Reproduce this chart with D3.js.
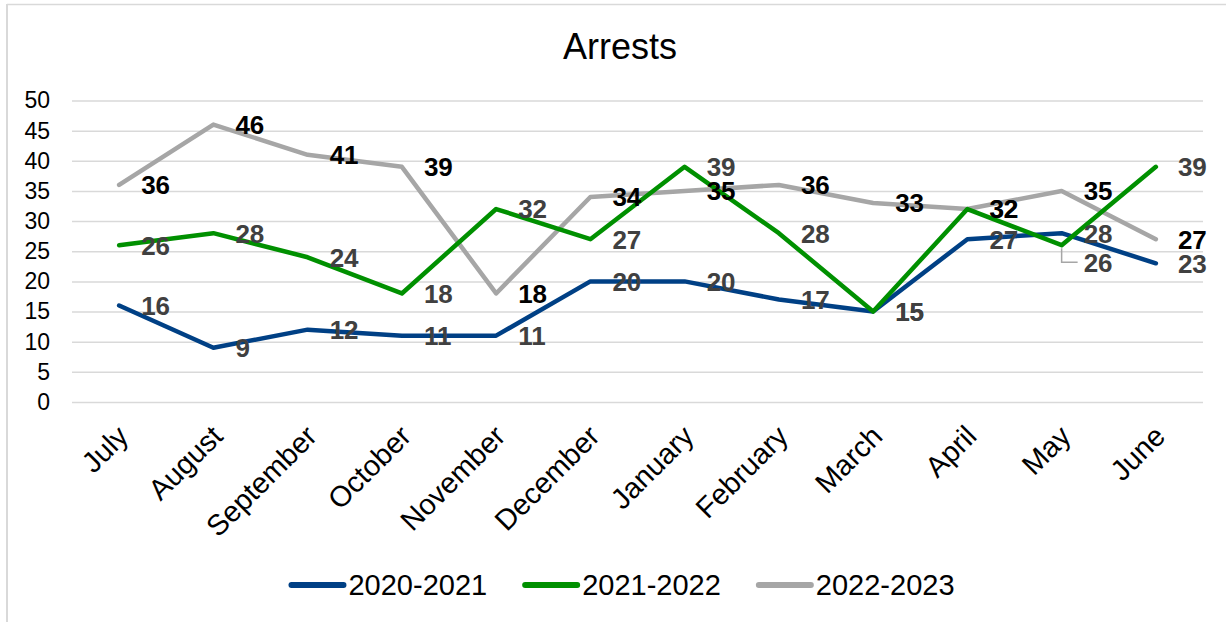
<!DOCTYPE html>
<html>
<head>
<meta charset="utf-8">
<script src="https://cdn.jsdelivr.net/npm/d3@7"></script>
<style>
  html, body { margin: 0; padding: 0; background: #fff; }
  svg { display: block; font-family: "Liberation Sans", Arial, sans-serif; }
</style>
</head>
<body>
<svg id="chart" width="1226" height="622"></svg>
<script>
// Monthly arrest counts, July through June, for three fiscal years
const months = ["July", "August", "September", "October", "November", "December",
                "January", "February", "March", "April", "May", "June"];
const seriesNames = ["2020-2021", "2021-2022", "2022-2023"];
const arrests2020 = [16, 9, 12, 11, 11, 20, 20, 17, 15, 27, 28, 23];
const arrests2021 = [26, 28, 24, 18, 32, 27, 39, 28, 15, 32, 26, 39];
const arrests2022 = [36, 46, 41, 39, 18, 34, 35, 36, 33, 32, 35, 27];
const yTicks = [0, 5, 10, 15, 20, 25, 30, 35, 40, 45, 50];

const colors = {"2020-2021": "#004085", "2021-2022": "#009000", "2022-2023": "#a6a6a6"};
const labelStyle = {
  "2020-2021": {fill: "#404040"},
  "2021-2022": {fill: "#404040"},
  "2022-2023": {fill: "#000000"}
};

const series = [
  {name: seriesNames[0], values: arrests2020},
  {name: seriesNames[1], values: arrests2021},
  {name: seriesNames[2], values: arrests2022}
];

const svg = d3.select("#chart");

// outer frame (top and left edges)
svg.append("line").attr("x1", 7).attr("x2", 1226).attr("y1", 4.5).attr("y2", 4.5)
  .attr("stroke", "#d9d9d9").attr("stroke-width", 1.5);
svg.append("line").attr("x1", 7).attr("x2", 7).attr("y1", 4).attr("y2", 622)
  .attr("stroke", "#d9d9d9").attr("stroke-width", 2);

const x = d3.scaleBand().domain(months).range([72, 1203]);
const y = d3.scaleLinear().domain([0, 50]).range([402, 100.5]);
const cx = m => x(m) + x.bandwidth() / 2;

// title
svg.append("text").attr("x", 620).attr("y", 59).attr("text-anchor", "middle")
  .attr("font-size", 36).attr("fill", "#000").text("Arrests");

// horizontal gridlines + value axis
const yAxis = d3.axisLeft(y).tickValues(yTicks).tickSize(-(1203 - 72)).tickPadding(22);
const gy = svg.append("g").attr("transform", "translate(72,0)").call(yAxis);
gy.select(".domain").remove();
gy.selectAll(".tick line").attr("stroke", "#d9d9d9").attr("stroke-width", 1.5);
gy.selectAll(".tick text").attr("font-size", 23).attr("fill", "#000")
  .attr("font-family", "Liberation Sans, Arial, sans-serif");

// category axis with slanted labels
const xAxis = d3.axisBottom(x).tickSize(0).tickPadding(0);
const gx = svg.append("g").attr("transform", "translate(0,402)").call(xAxis);
gx.select(".domain").remove();
gx.selectAll(".tick text")
  .attr("font-size", 29).attr("fill", "#000")
  .attr("font-family", "Liberation Sans, Arial, sans-serif")
  .attr("text-anchor", "end")
  .attr("dy", 0)
  .attr("transform", "translate(11,36) rotate(-45)");

// lines: blue, then gray, then green on top
const line = d3.line().x((d, i) => cx(months[i])).y(d => y(d));
const drawOrder = [0, 2, 1];
drawOrder.forEach(k => {
  const s = series[k];
  svg.append("path").datum(s.values)
    .attr("d", line)
    .attr("fill", "none")
    .attr("stroke", colors[s.name])
    .attr("stroke-width", 4.5)
    .attr("stroke-linejoin", "round")
    .attr("stroke-linecap", "round");
});

// data labels sit to the right of each point; one is pushed down with a leader line
const labelShift = {"2021-2022|May": 17};
const labels = svg.append("g").attr("font-size", 26).attr("font-weight", "bold");
series.forEach(s => {
  s.values.forEach((v, i) => {
    const px = cx(months[i]);
    const py = y(v);
    const shift = labelShift[s.name + "|" + months[i]] || 0;
    const ly = py + shift;
    if (shift) {
      labels.append("path")
        .attr("d", `M${px},${py + 3}V${ly}H${px + 16}`)
        .attr("fill", "none").attr("stroke", "#a6a6a6").attr("stroke-width", 1.5);
    }
    labels.append("text")
      .attr("x", px + 22).attr("y", ly).attr("dy", "0.36em")
      .attr("fill", labelStyle[s.name].fill)
      .text(v);
  });
});

// legend, centred under the plot
const legend = svg.append("g").attr("transform", "translate(0,585)");
const items = seriesNames.map(n => {
  const g = legend.append("g");
  g.append("line").attr("x1", 0).attr("x2", 52).attr("y1", 0).attr("y2", 0)
    .attr("stroke", colors[n]).attr("stroke-width", 6).attr("stroke-linecap", "round");
  const t = g.append("text").attr("x", 57).attr("y", 0).attr("dy", "0.36em")
    .attr("font-size", 29).attr("fill", "#000").text(n);
  return {g, w: 57 + t.node().getComputedTextLength()};
});
const gap = 38;
const total = d3.sum(items, d => d.w) + gap * (items.length - 1);
let lx = 623 - total / 2;
items.forEach(it => {
  it.g.attr("transform", `translate(${lx},0)`);
  lx += it.w + gap;
});
</script>
</body>
</html>
